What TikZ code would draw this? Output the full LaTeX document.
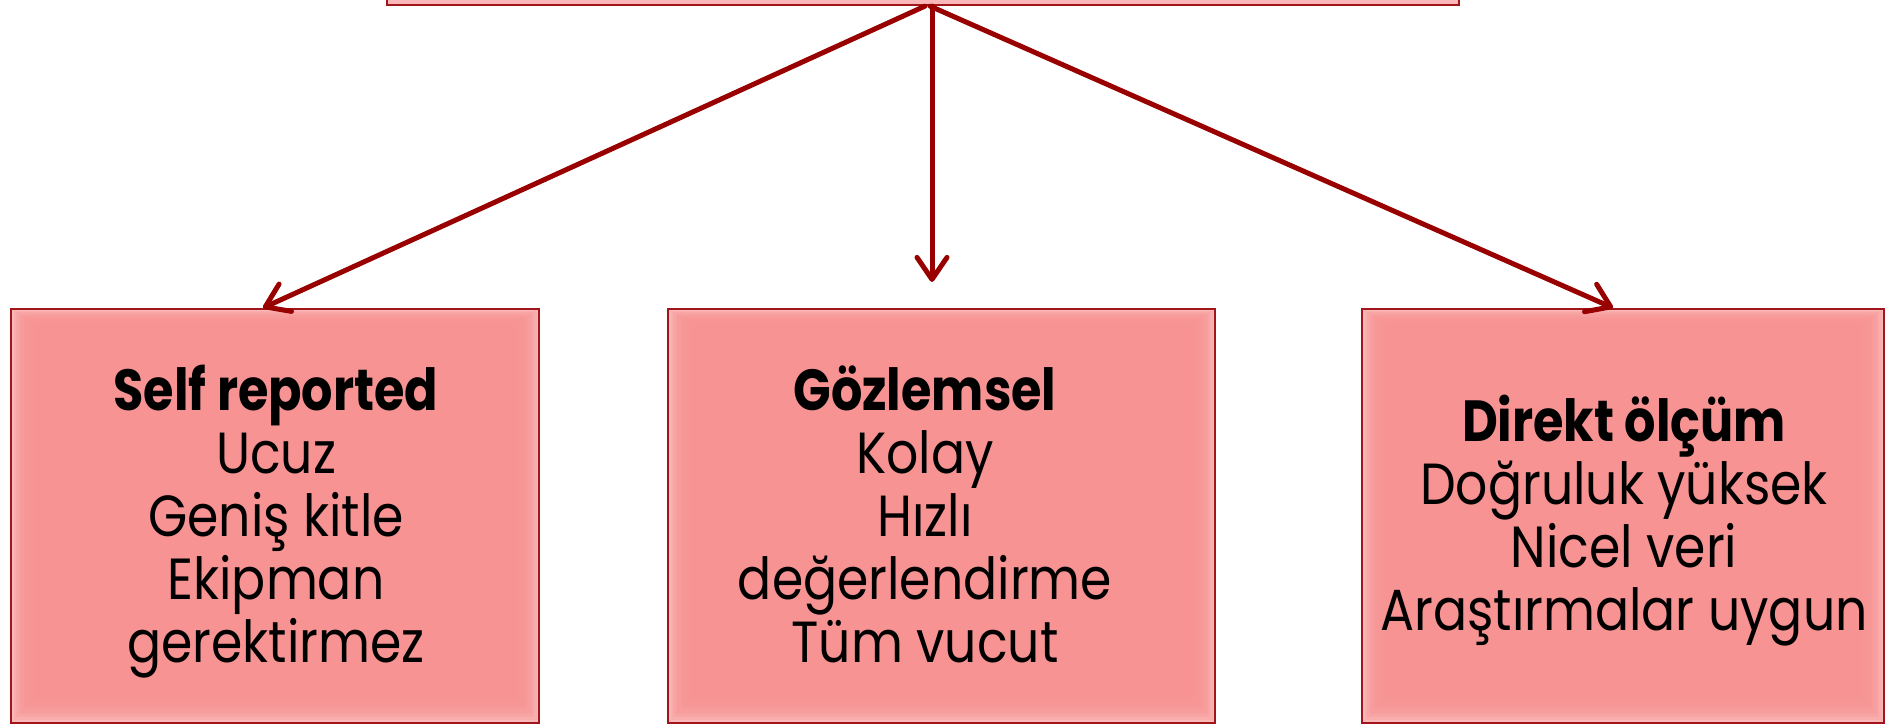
\documentclass[tikz,border=0pt]{standalone}
\usepackage{fontspec}
\setmainfont{Poppins}[FakeStretch=0.87, BoldFeatures={FakeStretch=0.85}]
\usetikzlibrary{arrows.meta}
\definecolor{boxfill}{HTML}{F79393}
\definecolor{boxedge}{HTML}{FAB8B8}
\definecolor{boxline}{HTML}{A0161B}
\definecolor{arrowred}{HTML}{990000}
\newcommand{\glowrect}[4]{%
  \fill[boxedge] (#1,#2) rectangle (#3,#4);
  \foreach \i in {1,...,9}{%
    \fill[boxfill,opacity=0.28] ({#1+2.5*\i},{#2+1.5*\i}) rectangle ({#3-2.5*\i},{#4-3*\i});
  }%
}
\begin{document}
\begin{tikzpicture}[x=0.5pt,y=-0.5pt,
  boxstyle/.style={draw=boxline, line width=1.1pt, rectangle, inner sep=0pt},
  conn/.style={draw=arrowred, line width=2.5pt, line cap=round,
    -{Straight Barb[length=11pt,width=15pt,line width=2.5pt,line cap=round,line join=round]}},
  txt/.style={align=center, font=\fontsize{29}{31.5}\selectfont, inner sep=0pt, anchor=base}]
\useasboundingbox (0,0) rectangle (1885,724);
\clip (0,0) rectangle (1885,724);
\fill[white] (0,0) rectangle (1885,724);
% glow fills
\fill[boxedge] (387,-100) rectangle (1459,5);
\glowrect{11}{309}{539}{723}
\glowrect{668}{309}{1215}{723}
\glowrect{1362}{309}{1884}{723}
% box outlines
\node[boxstyle, minimum width=536pt, minimum height=52.5pt] (T) at (923,-47.5) {};
\node[boxstyle, minimum width=264pt, minimum height=207pt] (L) at (275,516) {};
\node[boxstyle, minimum width=273.5pt, minimum height=207pt] (M) at (941.5,516) {};
\node[boxstyle, minimum width=261pt, minimum height=207pt] (R) at (1623,516) {};
% texts (anchor base = last line's baseline)
\node[txt] (Lt) at (276,662) {\textbf{Self reported}\\Ucuz\\Geniş kitle\\Ekipman\\gerektirmez};
\node[txt] (Mt) at (925,662) {\textbf{Gözlemsel}\\Kolay\\Hızlı\\değerlendirme\\Tüm vucut};
\node[txt] (Rt) at (1624,630) {\textbf{Direkt ölçüm}\\Doğruluk yüksek\\Nicel veri\\Araştırmalar uygun};
% connectors
\draw[conn] ([xshift=1pt]T.south) -- ([xshift=-6pt]L.north);
\draw[conn] ([xshift=4.5pt]T.south) -- ([xshift=-4.75pt,yshift=13pt]M.north);
\draw[conn] ([xshift=3.5pt]T.south) -- ([xshift=-5pt]R.north);
\end{tikzpicture}
\end{document}
